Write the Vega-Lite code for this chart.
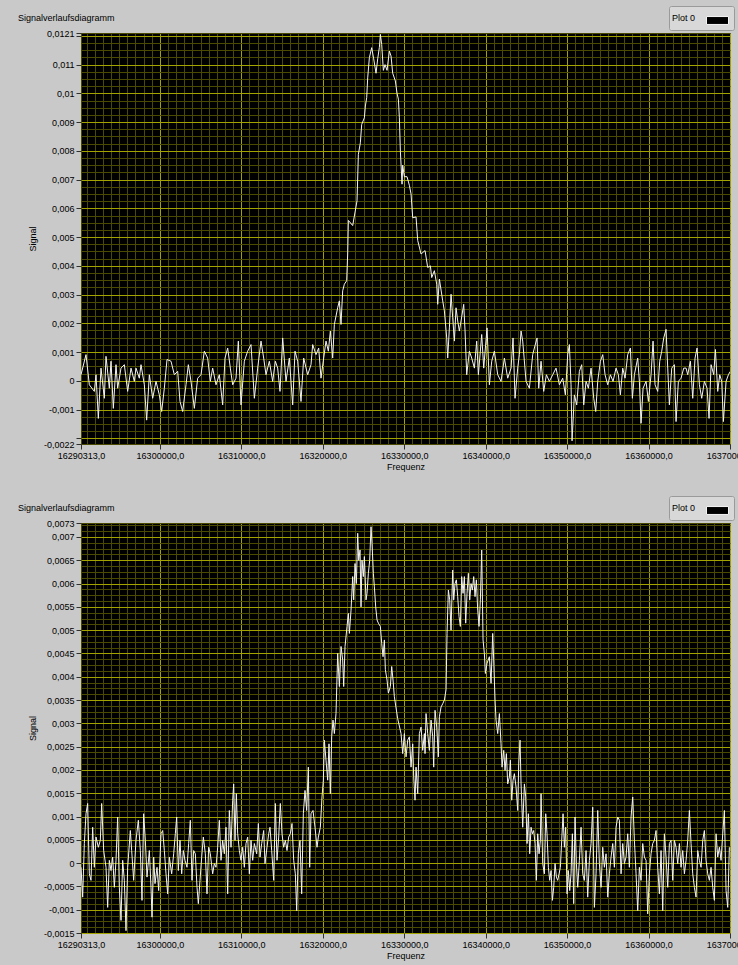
{
"$schema": "https://vega.github.io/schema/vega-lite/v6.json",
"padding": {"left": 17, "top": 5, "right": 0, "bottom": 7},
"spacing": 23,
"datasets": {
"oben": [
{"f":16290313,"s":0.00021},{"f":16290927,"s":0.00091},{"f":16291336,"s":-0.00014},{"f":16291950,"s":-0.00037},{"f":16292155,"s":0.00021},{"f":16292441,"s":-0.00131},{"f":16292769,"s":0.00044},{"f":16293178,"s":-0.00061},{"f":16293383,"s":0.00085},{"f":16293792,"s":-0.00026},{"f":16293997,"s":0.00068},{"f":16294283,"s":-0.00096},{"f":16294611,"s":0.00056},{"f":16294815,"s":-0.00026},{"f":16295225,"s":0.00044},{"f":16295634,"s":0.00056},{"f":16296043,"s":-0.00037},{"f":16296453,"s":0.00044},{"f":16296862,"s":-0.00002},{"f":16297066,"s":0.00044},{"f":16297476,"s":0.00009},{"f":16297680,"s":0.00056},{"f":16298090,"s":-0.00014},{"f":16298376,"s":-0.00137},{"f":16298704,"s":0.00021},{"f":16299113,"s":-0.00061},{"f":16299522,"s":-0.00002},{"f":16299932,"s":-0.00049},{"f":16300218,"s":-0.00107},{"f":16300546,"s":-0.00026},{"f":16300873,"s":0.00074},{"f":16301364,"s":0.00068},{"f":16301773,"s":0.00021},{"f":16302183,"s":0.00033},{"f":16302469,"s":-0.00072},{"f":16302797,"s":-0.00107},{"f":16303206,"s":-0.00014},{"f":16303492,"s":0.00056},{"f":16303820,"s":-0.00002},{"f":16304229,"s":-0.00096},{"f":16304639,"s":0.00009},{"f":16305048,"s":0.00021},{"f":16305457,"s":0.00103},{"f":16305866,"s":0.00079},{"f":16306194,"s":-0.00002},{"f":16306480,"s":0.00044},{"f":16306890,"s":-0.00014},{"f":16307299,"s":0.00021},{"f":16307708,"s":-0.00084},{"f":16307995,"s":0.00079},{"f":16308322,"s":0.00114},{"f":16308650,"s":0.00044},{"f":16308936,"s":-0.00014},{"f":16309345,"s":0.00009},{"f":16309632,"s":0.00138},{"f":16309959,"s":-0.00084},{"f":16310369,"s":0.00068},{"f":16310778,"s":0.00103},{"f":16311187,"s":0.00126},{"f":16311597,"s":-0.00061},{"f":16312006,"s":0.00044},{"f":16312415,"s":0.00138},{"f":16312743,"s":0.00079},{"f":16313029,"s":0.00021},{"f":16313438,"s":0.00068},{"f":16313848,"s":-0.00002},{"f":16314175,"s":0.00068},{"f":16314462,"s":0.00044},{"f":16314748,"s":-0.00037},{"f":16315076,"s":0.00149},{"f":16315485,"s":-0.00002},{"f":16315894,"s":0.00079},{"f":16316304,"s":-0.00084},{"f":16316590,"s":0.00103},{"f":16316918,"s":0.00068},{"f":16317327,"s":-0.00072},{"f":16317654,"s":0.00079},{"f":16318145,"s":0.00021},{"f":16318555,"s":0.00056},{"f":16318759,"s":0.00126},{"f":16319169,"s":0.00091},{"f":16319496,"s":0.00114},{"f":16319783,"s":0.00009},{"f":16320110,"s":0.00079},{"f":16320397,"s":0.00138},{"f":16320683,"s":0.00103},{"f":16320929,"s":0.00173},{"f":16321215,"s":0.00079},{"f":16321420,"s":0.00196},{"f":16321829,"s":0.00254},{"f":16322034,"s":0.00278},{"f":16322238,"s":0.00196},{"f":16322443,"s":0.00313},{"f":16322648,"s":0.00336},{"f":16322934,"s":0.00348},{"f":16323057,"s":0.00441},
{"f":16323141,"s":0.00558},{"f":16323673,"s":0.0054},{"f":16324205,"s":0.00626},{"f":16324369,"s":0.00788},{"f":16324615,"s":0.00828},{"f":16324778,"s":0.00892},{"f":16325106,"s":0.00915},{"f":16325229,"s":0.00956},{"f":16325392,"s":0.00985},{"f":16325515,"s":0.01054},{"f":16325720,"s":0.01124},{"f":16326006,"s":0.01159},{"f":16326252,"s":0.0112},{"f":16326538,"s":0.0107},{"f":16326743,"s":0.0112},{"f":16326948,"s":0.0116},{"f":16327070,"s":0.01205},{"f":16327234,"s":0.0117},{"f":16327439,"s":0.0108},{"f":16327643,"s":0.011},{"f":16327889,"s":0.0108},{"f":16328175,"s":0.01147},{"f":16328380,"s":0.0113},{"f":16328585,"s":0.0107},{"f":16328912,"s":0.01043},{"f":16329117,"s":0.01},{"f":16329281,"s":0.0098},{"f":16329403,"s":0.00915},{"f":16329526,"s":0.00799},{"f":16329731,"s":0.00684},{"f":16329813,"s":0.0075},{"f":16330018,"s":0.0071},{"f":16330345,"s":0.0071},{"f":16330632,"s":0.0068},{"f":16330836,"s":0.0065},{"f":16331041,"s":0.00567},{"f":16331450,"s":0.0057},
{"f":16331656,"s":0.00488},{"f":16332065,"s":0.00441},{"f":16332556,"s":0.00453},{"f":16332883,"s":0.00394},{"f":16333211,"s":0.004},{"f":16333375,"s":0.00359},{"f":16333702,"s":0.00383},{"f":16333989,"s":0.00336},{"f":16334111,"s":0.00266},{"f":16334316,"s":0.00354},{"f":16334725,"s":0.00278},{"f":16334930,"s":0.00243},{"f":16335216,"s":0.00149},{"f":16335339,"s":0.00079},{"f":16335544,"s":0.00184},{"f":16335749,"s":0.00301},{"f":16335953,"s":0.00219},{"f":16336158,"s":0.00138},{"f":16336362,"s":0.00254},{"f":16336567,"s":0.00208},{"f":16336772,"s":0.00173},{"f":16336976,"s":0.00208},{"f":16337304,"s":0.00266},{"f":16337468,"s":0.00173},{"f":16337672,"s":0.00021},{"f":16338000,"s":0.00103},{"f":16338286,"s":0.00079},{"f":16338614,"s":0.00044},{"f":16338900,"s":0.00138},{"f":16339105,"s":0.00021},{"f":16339514,"s":0.00161},{"f":16339760,"s":0.00044},{"f":16340169,"s":0.00184},{"f":16340455,"s":-0.00014},{"f":16340742,"s":0.00068},{"f":16341069,"s":0.00103},{"f":16341479,"s":0.00021},{"f":16341888,"s":-0.00002},{"f":16342297,"s":0.00079},{"f":16342707,"s":0.00009},{"f":16343116,"s":0.00044},{"f":16343361,"s":0.00149},{"f":16343607,"s":-0.00061},{"f":16343935,"s":0.00044},{"f":16344139,"s":0.00091},{"f":16344344,"s":0.00173},{"f":16344548,"s":0.00138},{"f":16344958,"s":-0.00002},{"f":16345367,"s":-0.00026},{"f":16345776,"s":0.00091},{"f":16345981,"s":0.00114},{"f":16346308,"s":0.00149},{"f":16346513,"s":-0.00026},{"f":16346800,"s":0.00068},{"f":16347127,"s":-0.00037},{"f":16347455,"s":0.00021},{"f":16347823,"s":-0.00002},{"f":16348232,"s":0.00021},{"f":16348641,"s":0.00044},{"f":16349051,"s":-0.00014},{"f":16349460,"s":0.00009},{"f":16349787,"s":-0.00049},{"f":16350074,"s":0.00091},{"f":16350279,"s":0.00126},{"f":16350483,"s":-0.00014},{"f":16350606,"s":-0.00209},{"f":16350893,"s":-0.00049},{"f":16351179,"s":-0.00084},{"f":16351507,"s":0.00033},{"f":16351793,"s":0.00056},{"f":16352039,"s":-0.00084},{"f":16352325,"s":-0.00002},{"f":16352612,"s":-0.00026},{"f":16352939,"s":0.00044},{"f":16353267,"s":-0.00061},{"f":16353512,"s":-0.00107},{"f":16353758,"s":-0.00002},{"f":16354085,"s":0.00068},{"f":16354372,"s":0.00091},{"f":16354658,"s":0.00021},{"f":16354986,"s":-0.00014},{"f":16355313,"s":0.00021},{"f":16355641,"s":-0.00002},{"f":16356009,"s":0.00044},{"f":16356295,"s":0.00021},{"f":16356541,"s":-0.00049},{"f":16356827,"s":0.00044},{"f":16357114,"s":0.00009},{"f":16357441,"s":0.00091},{"f":16357769,"s":0.00114},{"f":16358014,"s":-0.00061},{"f":16358260,"s":0.00021},{"f":16358669,"s":0.00079},{"f":16358874,"s":-0.00002},{"f":16359079,"s":-0.00148},{"f":16359324,"s":-0.00026},{"f":16359693,"s":-0.00002},{"f":16359979,"s":-0.00072},{"f":16360307,"s":0.00021},{"f":16360552,"s":0.00138},{"f":16360798,"s":-0.00014},{"f":16361125,"s":-0.00037},{"f":16361371,"s":0.00068},{"f":16361617,"s":0.00103},{"f":16361862,"s":0.00149},{"f":16362149,"s":0.00179},{"f":16362353,"s":0.00044},{"f":16362558,"s":-0.00084},{"f":16362845,"s":0.00044},{"f":16363172,"s":0.00056},{"f":16363377,"s":-0.00142},{"f":16363663,"s":-0.00002},{"f":16363991,"s":0.00009},{"f":16364318,"s":0.00044},{"f":16364605,"s":0.00044},{"f":16364809,"s":0.00021},{"f":16365137,"s":0.00068},{"f":16365424,"s":-0.00061},{"f":16365710,"s":0.00079},{"f":16365956,"s":0.00114},{"f":16366242,"s":-0.00014},{"f":16366528,"s":-0.00061},{"f":16366856,"s":-0.00002},{"f":16367183,"s":-0.00026},{"f":16367429,"s":-0.00131},{"f":16367675,"s":0.00056},{"f":16368002,"s":0.00021},{"f":16368207,"s":0.00109},{"f":16368493,"s":-0.00037},{"f":16368739,"s":0.00021},{"f":16368985,"s":-0.00002},{"f":16369189,"s":-0.00142},{"f":16369517,"s":-0.00002},{"f":16369804,"s":0.00021},{"f":16370049,"s":0.00033}
],
"unten": [
{"f":16290313,"s":-0.00009},{"f":16290518,"s":-0.00073},{"f":16290722,"s":0.00042},{"f":16290927,"s":0.00106},{"f":16291132,"s":0.00128},{"f":16291336,"s":-0.00023},{"f":16291541,"s":-0.00037},{"f":16291746,"s":0.00077},{"f":16291950,"s":-0.00009},{"f":16292155,"s":0.00056},{"f":16292441,"s":0.00034},{"f":16292687,"s":0.00049},{"f":16292851,"s":0.00128},{"f":16293096,"s":0.00027},{"f":16293383,"s":-0.00009},{"f":16293587,"s":-0.00095},{"f":16293792,"s":0.00006},{"f":16293997,"s":-0.00016},{"f":16294201,"s":0.00013},{"f":16294406,"s":-0.00052},{"f":16294611,"s":0.00006},{"f":16294815,"s":0.00099},{"f":16295020,"s":-0.00052},{"f":16295225,"s":-0.00123},{"f":16295429,"s":0.00006},{"f":16295634,"s":-0.00037},{"f":16295839,"s":-0.00145},{"f":16296043,"s":-0.00009},{"f":16296371,"s":0.0007},{"f":16296534,"s":0.00027},{"f":16296780,"s":-0.00037},{"f":16297066,"s":0.00049},{"f":16297353,"s":0.00092},{"f":16297598,"s":0.00027},{"f":16297803,"s":-0.0008},{"f":16298008,"s":0.00106},{"f":16298212,"s":0.00049},{"f":16298417,"s":-0.0003},{"f":16298704,"s":0.00027},{"f":16298908,"s":-0.00052},{"f":16299031,"s":-0.00116},{"f":16299236,"s":0.00013},{"f":16299399,"s":-0.00044},{"f":16299645,"s":-0.00009},{"f":16299850,"s":-0.00059},{"f":16300136,"s":0.00063},{"f":16300341,"s":0.0007},{"f":16300546,"s":0.00027},{"f":16300750,"s":-0.00023},{"f":16300955,"s":-0.00066},{"f":16301159,"s":0.00013},{"f":16301446,"s":-0.00023},{"f":16301692,"s":0.0002},{"f":16301896,"s":0.00063},{"f":16302060,"s":0.00099},{"f":16302265,"s":-0.00016},{"f":16302469,"s":0.00049},{"f":16302674,"s":-0.00023},{"f":16302879,"s":0.00027},{"f":16303083,"s":0.00006},{"f":16303329,"s":-0.00009},{"f":16303533,"s":0.00042},{"f":16303738,"s":0.00092},{"f":16303943,"s":-0.00037},{"f":16304147,"s":0.00027},{"f":16304352,"s":0.0002},{"f":16304557,"s":-0.00052},{"f":16304720,"s":-0.00087},{"f":16304925,"s":-0.00037},{"f":16305130,"s":0.00013},{"f":16305334,"s":0.00056},{"f":16305580,"s":0.0002},{"f":16305785,"s":-0.00066},{"f":16305989,"s":0.00034},{"f":16306194,"s":0.0002},{"f":16306480,"s":-0.00023},{"f":16306685,"s":-0.00001},{"f":16306890,"s":-0.00009},{"f":16307094,"s":0.00034},{"f":16307299,"s":0.00092},{"f":16307504,"s":0.00006},{"f":16307708,"s":0.00049},{"f":16307913,"s":0.0002},{"f":16308118,"s":0.00077},{"f":16308322,"s":-0.00066},{"f":16308527,"s":0.00113},{"f":16308732,"s":0.00034},{"f":16308936,"s":0.00135},{"f":16309059,"s":0.0017},{"f":16309223,"s":0.00049},{"f":16309386,"s":0.00149},{"f":16309550,"s":0.00063},{"f":16309755,"s":0.00027},{"f":16309959,"s":0.00006},{"f":16310164,"s":0.00034},{"f":16310369,"s":-0.00009},{"f":16310573,"s":0.00042},{"f":16310778,"s":0.00056},{"f":16310983,"s":-0.00023},{"f":16311187,"s":0.00049},{"f":16311392,"s":0.00006},{"f":16311597,"s":0.00042},{"f":16311883,"s":0.0002},{"f":16312088,"s":0.00085},{"f":16312292,"s":0.00013},{"f":16312497,"s":0.00042},{"f":16312743,"s":0.0007},{"f":16312906,"s":-0.00001},{"f":16313152,"s":0.00034},{"f":16313357,"s":0.00063},{"f":16313520,"s":0.00077},{"f":16313725,"s":0.00027},{"f":16313971,"s":-0.00037},{"f":16314175,"s":0.00128},{"f":16314380,"s":0.00006},{"f":16314585,"s":0.00056},{"f":16314789,"s":0.00128},{"f":16314994,"s":0.00063},{"f":16315198,"s":0.00034},{"f":16315403,"s":0.00049},{"f":16315608,"s":0.00027},{"f":16315812,"s":0.00056},{"f":16316017,"s":0.00063},{"f":16316222,"s":0.00085},{"f":16316426,"s":0.00006},{"f":16316631,"s":-0.00023},{"f":16316795,"s":-0.00102},{"f":16316999,"s":0.0002},{"f":16317204,"s":0.00049},{"f":16317409,"s":-0.00066},{"f":16317613,"s":0.00106},{"f":16317818,"s":0.00156},{"f":16318023,"s":0.00113},{"f":16318227,"s":0.00206},{"f":16318391,"s":-0.00009},{"f":16318555,"s":0.00106},{"f":16318800,"s":0.00113},{"f":16319046,"s":0.00077},{"f":16319291,"s":0.00034},{"f":16319455,"s":0.00056},{"f":16319701,"s":0.00077},{"f":16319905,"s":0.00142},{"f":16320069,"s":0.00178},{"f":16320192,"s":0.00264},{"f":16320397,"s":0.00221},{"f":16320601,"s":0.00178},{"f":16320765,"s":0.00256},{"f":16320929,"s":0.00149},{"f":16321092,"s":0.00271},{"f":16321256,"s":0.00307},{"f":16321420,"s":0.00278},{"f":16321624,"s":0.00321},
{"f":16321831,"s":0.0045},{"f":16322036,"s":0.00379},{"f":16322241,"s":0.00465},{"f":16322445,"s":0.00436},{"f":16322568,"s":0.00379},{"f":16322732,"s":0.00465},{"f":16322977,"s":0.00508},{"f":16323141,"s":0.00536},{"f":16323264,"s":0.00493},{"f":16323469,"s":0.00543},{"f":16323673,"s":0.00615},{"f":16323796,"s":0.00565},{"f":16323960,"s":0.00643},{"f":16324123,"s":0.006},{"f":16324287,"s":0.00708},{"f":16324410,"s":0.0065},{"f":16324574,"s":0.00672},{"f":16324696,"s":0.0055},{"f":16324819,"s":0.0065},{"f":16324983,"s":0.00615},{"f":16325106,"s":0.00658},{"f":16325310,"s":0.00565},{"f":16325433,"s":0.00579},{"f":16325597,"s":0.00622},{"f":16325761,"s":0.0065},{"f":16325924,"s":0.00722},{"f":16326047,"s":0.00686},{"f":16326211,"s":0.00622},{"f":16326334,"s":0.00593},{"f":16326497,"s":0.0055},{"f":16326661,"s":0.00522},{"f":16326825,"s":0.00515},{"f":16327070,"s":0.00508},{"f":16327234,"s":0.00472},{"f":16327398,"s":0.00443},{"f":16327562,"s":0.00479},{"f":16327684,"s":0.00415},{"f":16327889,"s":0.00393},{"f":16328053,"s":0.00365},{"f":16328298,"s":0.00379},{"f":16328462,"s":0.00422},{"f":16328626,"s":0.00393},{"f":16328789,"s":0.00357},{"f":16329199,"s":0.0031},
{"f":16329609,"s":0.00278},{"f":16329814,"s":0.00235},{"f":16330018,"s":0.00278},{"f":16330223,"s":0.00228},{"f":16330428,"s":0.00264},{"f":16330632,"s":0.00271},{"f":16330837,"s":0.00206},{"f":16331042,"s":0.00256},{"f":16331164,"s":0.00185},{"f":16331328,"s":0.00135},{"f":16331451,"s":0.00206},{"f":16331656,"s":0.00149},{"f":16331860,"s":0.00278},{"f":16332065,"s":0.00292},{"f":16332269,"s":0.00242},{"f":16332474,"s":0.00278},{"f":16332556,"s":0.00235},{"f":16332679,"s":0.00321},{"f":16332883,"s":0.00278},{"f":16333088,"s":0.00242},{"f":16333293,"s":0.00307},{"f":16333497,"s":0.00271},{"f":16333620,"s":0.00206},{"f":16333784,"s":0.00328},{"f":16333989,"s":0.00292},{"f":16334193,"s":0.00228},{"f":16334316,"s":0.00314},{"f":16334521,"s":0.00335},{"f":16334725,"s":0.00342},{"f":16334930,"s":0.0035},
{"f":16335134,"s":0.00372},{"f":16335256,"s":0.00493},{"f":16335420,"s":0.00586},{"f":16335584,"s":0.00565},{"f":16335748,"s":0.005},{"f":16335952,"s":0.00629},{"f":16336075,"s":0.00565},{"f":16336239,"s":0.006},{"f":16336402,"s":0.00608},{"f":16336566,"s":0.00572},{"f":16336730,"s":0.00529},{"f":16336894,"s":0.00508},{"f":16337057,"s":0.00615},{"f":16337221,"s":0.00579},{"f":16337385,"s":0.00615},{"f":16337548,"s":0.00515},{"f":16337712,"s":0.00579},{"f":16337876,"s":0.00622},{"f":16338040,"s":0.00565},{"f":16338203,"s":0.006},{"f":16338367,"s":0.00586},{"f":16338531,"s":0.00615},{"f":16338694,"s":0.00572},{"f":16338858,"s":0.00608},{"f":16339022,"s":0.00543},{"f":16339186,"s":0.00508},{"f":16339349,"s":0.00565},{"f":16339513,"s":0.00672},{"f":16339677,"s":0.00479},{"f":16339841,"s":0.0045},{"f":16339963,"s":0.00407},{"f":16340168,"s":0.00429},{"f":16340454,"s":0.00443},{"f":16340659,"s":0.00386},{"f":16340864,"s":0.00493},{"f":16340987,"s":0.00436},{"f":16341150,"s":0.0035},
{"f":16341274,"s":0.00307},{"f":16341479,"s":0.00278},{"f":16341683,"s":0.00321},{"f":16341888,"s":0.00256},{"f":16342011,"s":0.00206},{"f":16342215,"s":0.00242},{"f":16342379,"s":0.00199},{"f":16342543,"s":0.00235},{"f":16342707,"s":0.0017},{"f":16342911,"s":0.00185},{"f":16343034,"s":0.00221},{"f":16343198,"s":0.00135},{"f":16343361,"s":0.00178},{"f":16343525,"s":0.00192},{"f":16343730,"s":0.00163},{"f":16343935,"s":0.00113},{"f":16344057,"s":0.00213},{"f":16344221,"s":0.00264},{"f":16344344,"s":0.0017},{"f":16344548,"s":0.00077},{"f":16344753,"s":0.0017},{"f":16344917,"s":0.00142},{"f":16345081,"s":0.00042},{"f":16345244,"s":0.00106},{"f":16345408,"s":0.0002},{"f":16345572,"s":0.00077},{"f":16345735,"s":0.00063},{"f":16345899,"s":0.0007},{"f":16346063,"s":0.00042},{"f":16346227,"s":-0.00037},{"f":16346390,"s":0.00063},{"f":16346554,"s":0.0002},{"f":16346718,"s":0.00049},{"f":16346800,"s":0.00149},{"f":16347004,"s":-0.00001},{"f":16347209,"s":-0.00023},{"f":16347373,"s":0.00106},{"f":16347536,"s":0.00063},{"f":16347700,"s":-0.00009},{"f":16347864,"s":-0.00037},{"f":16348028,"s":-0.00016},{"f":16348191,"s":-0.0008},{"f":16348355,"s":-0.00052},{"f":16348519,"s":-0.00001},{"f":16348682,"s":-0.0003},{"f":16348846,"s":-0.00037},{"f":16349010,"s":-0.00023},{"f":16349174,"s":-0.00009},{"f":16349337,"s":0.00049},{"f":16349501,"s":0.00106},{"f":16349665,"s":0.00034},{"f":16349828,"s":0.00077},{"f":16349992,"s":-0.00066},{"f":16350156,"s":-0.00016},{"f":16350320,"s":-0.00059},{"f":16350483,"s":-0.00023},{"f":16350647,"s":0.00063},{"f":16350811,"s":-0.00087},{"f":16350974,"s":0.00099},{"f":16351138,"s":-0.00001},{"f":16351302,"s":-0.00052},{"f":16351507,"s":0.00006},{"f":16351711,"s":0.00077},{"f":16351916,"s":-0.00023},{"f":16352121,"s":-0.00037},{"f":16352325,"s":0.00027},{"f":16352530,"s":-0.00073},{"f":16352735,"s":0.00006},{"f":16352939,"s":0.00042},{"f":16353144,"s":0.0012},{"f":16353349,"s":-0.00095},{"f":16353553,"s":-0.00023},{"f":16353758,"s":0.00113},{"f":16353963,"s":-0.00001},{"f":16354167,"s":-0.00052},{"f":16354372,"s":0.00034},{"f":16354577,"s":-0.00009},{"f":16354781,"s":0.0002},{"f":16354986,"s":-0.00073},{"f":16355190,"s":-0.00023},{"f":16355395,"s":0.00013},{"f":16355600,"s":0.00042},{"f":16355804,"s":-0.00009},{"f":16356009,"s":0.00077},{"f":16356214,"s":0.00099},{"f":16356418,"s":0.00092},{"f":16356623,"s":-0.00023},{"f":16356828,"s":0.00042},{"f":16357032,"s":-0.00001},{"f":16357237,"s":0.00013},{"f":16357442,"s":0.00063},{"f":16357646,"s":-0.00009},{"f":16357851,"s":0.00099},{"f":16358056,"s":0.00142},{"f":16358260,"s":0.00049},{"f":16358465,"s":-0.00023},{"f":16358669,"s":-0.00102},{"f":16358874,"s":-0.00009},{"f":16359079,"s":-0.00037},{"f":16359283,"s":0.00042},{"f":16359488,"s":0.00013},{"f":16359693,"s":0.00006},{"f":16359897,"s":-0.00109},{"f":16360102,"s":-0.00023},{"f":16360307,"s":0.0002},{"f":16360511,"s":0.00042},{"f":16360716,"s":0.00049},{"f":16360921,"s":0.0007},{"f":16361125,"s":-0.00009},{"f":16361330,"s":-0.00066},{"f":16361535,"s":0.00027},{"f":16361739,"s":-0.00102},{"f":16361944,"s":0.00063},{"f":16362148,"s":0.00013},{"f":16362353,"s":-0.00052},{"f":16362558,"s":0.00042},{"f":16362762,"s":0.00049},{"f":16362967,"s":-0.00037},{"f":16363172,"s":0.00049},{"f":16363376,"s":0.00034},{"f":16363581,"s":-0.00001},{"f":16363786,"s":0.00042},{"f":16363990,"s":-0.00009},{"f":16364195,"s":0.00027},{"f":16364400,"s":-0.00023},{"f":16364604,"s":0.00006},{"f":16364809,"s":0.00049},{"f":16365013,"s":0.00113},{"f":16365218,"s":0.00042},{"f":16365423,"s":-0.00023},{"f":16365627,"s":-0.00052},{"f":16365832,"s":-0.00073},{"f":16366037,"s":0.00027},{"f":16366241,"s":0.00006},{"f":16366446,"s":-0.00009},{"f":16366651,"s":0.00049},{"f":16366855,"s":0.0007},{"f":16367060,"s":0.00006},{"f":16367265,"s":-0.00023},{"f":16367469,"s":-0.00037},{"f":16367674,"s":-0.00009},{"f":16367879,"s":-0.00052},{"f":16368083,"s":-0.0008},{"f":16368288,"s":0.00063},{"f":16368493,"s":0.00013},{"f":16368697,"s":0.00034},{"f":16368902,"s":0.00006},{"f":16369107,"s":0.00063},{"f":16369311,"s":0.00113},{"f":16369516,"s":-0.00059},{"f":16369721,"s":-0.00095},{"f":16369925,"s":0.00034}
]
},
"vconcat": [
{
"width": 649, "height": 411,
"data": {"name": "oben"},
"title": {"text": "Signalverlaufsdiagramm"},
"mark": {"type": "line", "stroke": "#f4f4f4", "strokeWidth": 1, "clip": true},
"encoding": {
"x": {"field": "f", "type": "quantitative", "title": "Frequenz",
"scale": {"domain": [16290313, 16370000], "nice": false, "zero": false},
"axis": {"values": [16290313,16291000,16292000,16293000,16294000,16295000,16296000,16297000,16298000,16299000,16300000,16301000,16302000,16303000,16304000,16305000,16306000,16307000,16308000,16309000,16310000,16311000,16312000,16313000,16314000,16315000,16316000,16317000,16318000,16319000,16320000,16321000,16322000,16323000,16324000,16325000,16326000,16327000,16328000,16329000,16330000,16331000,16332000,16333000,16334000,16335000,16336000,16337000,16338000,16339000,16340000,16341000,16342000,16343000,16344000,16345000,16346000,16347000,16348000,16349000,16350000,16351000,16352000,16353000,16354000,16355000,16356000,16357000,16358000,16359000,16360000,16361000,16362000,16363000,16364000,16365000,16366000,16367000,16368000,16369000,16370000],
"labelExpr": "(datum.value % 10000 === 0 || datum.value === 16290313) ? format(datum.value, '.1f') : ''",
"gridColor": {"condition": {"test": "datum.value % 10000 === 0", "value": "#a3a300"}, "value": "#4a4a00"},
"tickOpacity": {"condition": {"test": "datum.value % 10000 === 0 || datum.value === 16290313", "value": 1}, "value": 0}}},
"y": {"field": "s", "type": "quantitative", "title": "Signal",
"scale": {"domain": [-0.0022, 0.0121], "nice": false, "zero": false},
"axis": {"values": [-0.0022,-0.002,-0.00175,-0.0015,-0.00125,-0.001,-0.00075,-0.0005,-0.00025,0,0.00025,0.0005,0.00075,0.001,0.00125,0.0015,0.00175,0.002,0.00225,0.0025,0.00275,0.003,0.00325,0.0035,0.00375,0.004,0.00425,0.0045,0.00475,0.005,0.00525,0.0055,0.00575,0.006,0.00625,0.0065,0.00675,0.007,0.00725,0.0075,0.00775,0.008,0.00825,0.0085,0.00875,0.009,0.00925,0.0095,0.00975,0.01,0.01025,0.0105,0.01075,0.011,0.01125,0.0115,0.01175,0.012,0.0121],
"labelExpr": "((abs(datum.value*1000 - round(datum.value*1000)) < 0.000001 && abs(datum.value + 0.002) > 0.0000001 && abs(datum.value - 0.012) > 0.0000001) || datum.value == 0.0121 || datum.value == -0.0022) ? format(datum.value, '.4~f') : ''",
"gridColor": {"condition": {"test": "abs(datum.value*1000 - round(datum.value*1000)) < 0.000001", "value": "#a3a300"}, "value": "#4a4a00"},
"tickOpacity": {"condition": {"test": "abs(datum.value*1000 - round(datum.value*1000)) < 0.000001 || datum.value == 0.0121 || datum.value == -0.0022", "value": 1}, "value": 0}}},
"color": {"datum": "Plot 0", "scale": {"range": ["#f4f4f4"]},
"legend": {"orient": "none", "legendX": 588, "legendY": -27, "title": "Plot 0", "labelExpr": "''", "labelLimit": 1, "labelOffset": 0}}
}
},
{
"width": 649, "height": 410,
"data": {"name": "unten"},
"title": {"text": "Signalverlaufsdiagramm"},
"mark": {"type": "line", "stroke": "#f4f4f4", "strokeWidth": 1, "clip": true},
"encoding": {
"x": {"field": "f", "type": "quantitative", "title": "Frequenz",
"scale": {"domain": [16290313, 16370000], "nice": false, "zero": false},
"axis": {"values": [16290313,16291000,16292000,16293000,16294000,16295000,16296000,16297000,16298000,16299000,16300000,16301000,16302000,16303000,16304000,16305000,16306000,16307000,16308000,16309000,16310000,16311000,16312000,16313000,16314000,16315000,16316000,16317000,16318000,16319000,16320000,16321000,16322000,16323000,16324000,16325000,16326000,16327000,16328000,16329000,16330000,16331000,16332000,16333000,16334000,16335000,16336000,16337000,16338000,16339000,16340000,16341000,16342000,16343000,16344000,16345000,16346000,16347000,16348000,16349000,16350000,16351000,16352000,16353000,16354000,16355000,16356000,16357000,16358000,16359000,16360000,16361000,16362000,16363000,16364000,16365000,16366000,16367000,16368000,16369000,16370000],
"labelExpr": "(datum.value % 10000 === 0 || datum.value === 16290313) ? format(datum.value, '.1f') : ''",
"gridColor": {"condition": {"test": "datum.value % 10000 === 0", "value": "#a3a300"}, "value": "#4a4a00"},
"tickOpacity": {"condition": {"test": "datum.value % 10000 === 0 || datum.value === 16290313", "value": 1}, "value": 0}}},
"y": {"field": "s", "type": "quantitative", "title": "Signal",
"scale": {"domain": [-0.0015, 0.0073], "nice": false, "zero": false},
"axis": {"values": [-0.0015,-0.001375,-0.00125,-0.001125,-0.001,-0.000875,-0.00075,-0.000625,-0.0005,-0.000375,-0.00025,-0.000125,0,0.000125,0.00025,0.000375,0.0005,0.000625,0.00075,0.000875,0.001,0.001125,0.00125,0.001375,0.0015,0.001625,0.00175,0.001875,0.002,0.002125,0.00225,0.002375,0.0025,0.002625,0.00275,0.002875,0.003,0.003125,0.00325,0.003375,0.0035,0.003625,0.00375,0.003875,0.004,0.004125,0.00425,0.004375,0.0045,0.004625,0.00475,0.004875,0.005,0.005125,0.00525,0.005375,0.0055,0.005625,0.00575,0.005875,0.006,0.006125,0.00625,0.006375,0.0065,0.006625,0.00675,0.006875,0.007,0.007125,0.00725,0.0073],
"labelExpr": "(abs(datum.value*2000 - round(datum.value*2000)) < 0.000001 || datum.value == 0.0073) ? format(datum.value, '.4~f') : ''",
"gridColor": {"condition": {"test": "abs(datum.value*2000 - round(datum.value*2000)) < 0.000001", "value": "#a3a300"}, "value": "#4a4a00"},
"tickOpacity": {"condition": {"test": "abs(datum.value*2000 - round(datum.value*2000)) < 0.000001 || datum.value == 0.0073", "value": 1}, "value": 0}}},
"color": {"datum": "Plot 0", "scale": {"range": ["#f4f4f4"]},
"legend": {"orient": "none", "legendX": 588, "legendY": -27, "title": "Plot 0", "labelExpr": "''", "labelLimit": 1, "labelOffset": 0}}
}
}
],
"resolve": {"scale": {"color": "independent"}, "legend": {"color": "independent"}},
"config": {
"background": "#c9c9c9",
"locale": {"number": {"decimal": ",", "thousands": ".", "grouping": [3], "currency": ["", " €"], "minus": "-"}},
"font": "Liberation Sans",
"view": {"fill": "#000000", "stroke": "#505050", "strokeWidth": 1},
"title": {"anchor": "start", "frame": "group", "dx": -63, "offset": -17, "baseline": "bottom", "font": "Liberation Sans", "fontSize": 9, "fontWeight": "normal", "color": "#000000"},
"axis": {"labelFont": "Liberation Sans", "labelFontSize": 9, "labelColor": "#000000", "titleFont": "Liberation Sans", "titleFontSize": 9, "titleFontWeight": "normal", "titleColor": "#000000", "domain": false, "tickSize": 5, "tickColor": "#303030", "labelPadding": 2, "labelFlush": false, "labelOverlap": false, "gridWidth": 1, "gridOpacity": 1},
"axisX": {"titlePadding": 2},
"axisY": {"titlePadding": 6},
"legend": {"titleOrient": "left", "titleFont": "Liberation Sans", "titleFontSize": 9, "titleFontWeight": "normal", "titleColor": "#000000", "titlePadding": 10, "symbolType": "M-1,-0.36H1V0.36H-1Z", "symbolSize": 484, "symbolFillColor": "#000000", "symbolStrokeColor": "#ffffff", "symbolStrokeWidth": 1, "fillColor": "#d8d8d8", "strokeColor": "#9a9a9a", "padding": 3, "cornerRadius": 2}
}
}
